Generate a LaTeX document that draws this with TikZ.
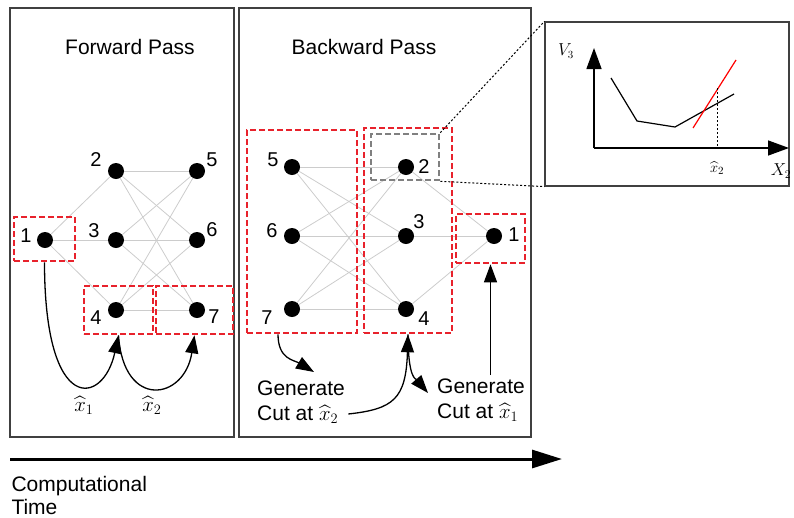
\documentclass[tikz,border=0pt]{standalone}
\usepackage{amsmath,amssymb}
\usepackage{xcolor}
\usepackage{fontspec}
\setmainfont{Liberation Sans}
\usepackage{tikz}
\usetikzlibrary{arrows.meta}
\definecolor{cutred}{HTML}{E8222C}

\tikzset{
  neuron/.style={circle,fill=black,inner sep=0pt,minimum size=16pt},
  numlbl/.style={inner sep=0pt,font=\fontsize{20}{24}\selectfont},
  wire/.style={gray!40,line width=0.8pt},
  panel/.style={draw=black!75,line width=1.2pt,inner sep=0pt},
  cutbox/.style={draw=cutred,dash pattern=on 6pt off 3pt,line width=2.6pt,inner sep=0pt},
  zoombox/.style={draw=gray,dash pattern=on 6pt off 3pt,line width=2.6pt,inner sep=0pt},
  curvearrow/.style={-{Triangle[length=18pt,width=13pt]},line width=1.3pt},
  axisarrow/.style={-{Triangle[length=21pt,width=15pt]},line width=1.4pt},
  timearrow/.style={-{Triangle[length=30pt,width=18pt]},line width=3pt},
  zoomline/.style={black,dash pattern=on 2pt off 2pt,line width=1pt}
}

\begin{document}
\begin{tikzpicture}[x=1pt,y=-1pt,font=\fontsize{21}{25}\selectfont]
\useasboundingbox (0,0) rectangle (794,517);

% panels
\node[panel,minimum width=224pt,minimum height=429pt] (fwd) at (122,222.5) {};
\node[panel,minimum width=292pt,minimum height=429pt] (bwd) at (385,222.5) {};
\node[panel,minimum width=244pt,minimum height=164pt] (inset) at (667,104) {};
\node (fwdtitle) at (130,47) {Forward Pass};
\node (bwdtitle) at (364,47) {Backward Pass};

% forward pass network
\node[neuron] (f1) at (45,240) {};
\node[neuron] (f2) at (116,171) {};
\node[neuron] (f3) at (116,240) {};
\node[neuron] (f4) at (116,310) {};
\node[neuron] (f5) at (197,171) {};
\node[neuron] (f6) at (197,240) {};
\node[neuron] (f7) at (197,310) {};
\node[numlbl] (f1l) at (26,236) {1};
\node[numlbl] (f2l) at (96,160) {2};
\node[numlbl] (f3l) at (94,231) {3};
\node[numlbl] (f4l) at (96,318) {4};
\node[numlbl] (f5l) at (212,160) {5};
\node[numlbl] (f6l) at (212,230) {6};
\node[numlbl] (f7l) at (214,317) {7};
\draw[wire] (f1) -- (f2);
\draw[wire] (f1) -- (f3);
\draw[wire] (f1) -- (f4);
\draw[wire] (f2) -- (f5);
\draw[wire] (f2) -- (f6);
\draw[wire] (f2) -- (f7);
\draw[wire] (f3) -- (f5);
\draw[wire] (f3) -- (f6);
\draw[wire] (f3) -- (f7);
\draw[wire] (f4) -- (f5);
\draw[wire] (f4) -- (f6);
\draw[wire] (f4) -- (f7);
\node[cutbox,minimum width=61pt,minimum height=44pt] (fb1) at (44.5,239) {};
\node[cutbox,minimum width=69pt,minimum height=48pt] (fb4) at (118.5,310) {};
\node[cutbox,minimum width=77pt,minimum height=48pt] (fb7) at (194.5,310) {};
\draw[curvearrow] (fb1.south) .. controls +(0,155) and +(-15,70) .. (fb4.south);
\draw[curvearrow] (fb4.south) .. controls +(5,75) and +(-10,65) .. (fb7.south);
\node (xh1) at (84,405) {$\widehat{x}_1$};
\node (xh2) at (152,405) {$\widehat{x}_2$};

% backward pass network
\node[neuron] (b5) at (292,167) {};
\node[neuron] (b6) at (292,236) {};
\node[neuron] (b7) at (292,309) {};
\node[neuron] (b2) at (406,167) {};
\node[neuron] (b3) at (406,236) {};
\node[neuron] (b4) at (406,309) {};
\node[neuron] (b1) at (494,236) {};
\node[numlbl] (b5l) at (273,160) {5};
\node[numlbl] (b6l) at (272,231) {6};
\node[numlbl] (b7l) at (267,318) {7};
\node[numlbl] (b2l) at (424,167) {2};
\node[numlbl] (b3l) at (419,222) {3};
\node[numlbl] (b4l) at (424,319) {4};
\node[numlbl] (b1l) at (514,235) {1};
\draw[wire] (b5) -- (b2);
\draw[wire] (b5) -- (b3);
\draw[wire] (b5) -- (b4);
\draw[wire] (b6) -- (b2);
\draw[wire] (b6) -- (b3);
\draw[wire] (b6) -- (b4);
\draw[wire] (b7) -- (b2);
\draw[wire] (b7) -- (b3);
\draw[wire] (b7) -- (b4);
\draw[wire] (b2) -- (b1);
\draw[wire] (b3) -- (b1);
\draw[wire] (b4) -- (b1);
\node[cutbox,minimum width=110pt,minimum height=203pt] (bb57) at (302,231.5) {};
\node[cutbox,minimum width=88pt,minimum height=205pt] (bb24) at (408,230.5) {};
\node[cutbox,minimum width=69pt,minimum height=49pt] (bb1) at (490.5,238.5) {};
\node[zoombox,minimum width=68pt,minimum height=46pt] (zb) at (405,157) {};

\node[align=left] (gen2) at (301,402) {Generate\\Cut at $\widehat{x}_2$};
\node[align=left] (gen1) at (481,400) {Generate\\Cut at $\widehat{x}_1$};
\coordinate (t57) at (314,372);
\coordinate (t24) at (428,393);
\draw[curvearrow] ([xshift=-24pt]bb57.south) .. controls +(0,25) and +(-20,-12) .. (t57);
\draw[curvearrow] ([yshift=-12pt]gen2.east) .. controls +(45,-5) and +(-2,65) .. (bb24.south);
\draw[curvearrow] (bb24.south) .. controls +(0,45) and +(-12,-14) .. (t24);
\draw[curvearrow] (gen1.north -| bb1.south) -- (bb1.south);

% zoomed value function
\draw[zoomline] (zb.north east) -- (inset.north west);
\draw[zoomline] (zb.south east) -- (inset.south west);
\coordinate (org) at (594,148);
\coordinate (vtop) at (594,48);
\coordinate (xend) at (789,148);
\draw[axisarrow] (org) -- (vtop);
\draw[axisarrow] (org) -- (xend);
\draw[line width=1.2pt] (611,78) -- (637,121) -- (675,127) -- (734,94);
\draw[red,line width=1.2pt] (693,128) -- (736,60);
\draw[zoomline] (717,88) -- (717,148);
\node[font=\fontsize{16}{20}\selectfont] (vlab) at (566,51) {$V_3$};
\node[font=\fontsize{17}{20}\selectfont] (xlab) at (781,171) {$X_2$};
\node[font=\fontsize{15}{18}\selectfont] (xhat) at (717,168) {$\widehat{x}_2$};

% time axis
\coordinate (tstart) at (10,459);
\coordinate (tend) at (562,459);
\draw[timearrow] (tstart) -- (tend);
\node[align=left,anchor=west,font=\fontsize{21}{23}\selectfont] (comp) at (8,495) {Computational\\Time};
\end{tikzpicture}
\end{document}
